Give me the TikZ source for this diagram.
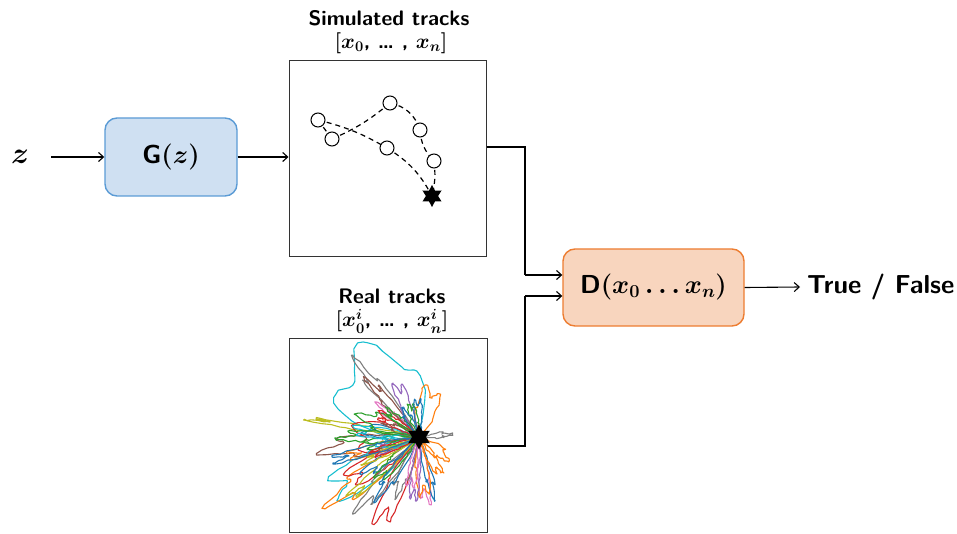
\documentclass[tikz,border=0pt]{standalone}
\usepackage{fix-cm}
\usepackage{amsmath,bm}
\usepackage{fontspec}
\usetikzlibrary{shapes.geometric,arrows.meta,calc}
\definecolor{gfill}{HTML}{CFE0F2}
\definecolor{gline}{HTML}{5B9BD5}
\definecolor{dfill}{HTML}{F8D5BE}
\definecolor{dline}{HTML}{ED7D31}
\definecolor{tblue}{HTML}{1F77B4}
\definecolor{torange}{HTML}{FF7F0E}
\definecolor{tgreen}{HTML}{2CA02C}
\definecolor{tred}{HTML}{D62728}
\definecolor{tpurple}{HTML}{9467BD}
\definecolor{tbrown}{HTML}{8C564B}
\definecolor{tpink}{HTML}{E377C2}
\definecolor{tgray}{HTML}{7F7F7F}
\definecolor{tolive}{HTML}{BCBD22}
\definecolor{tcyan}{HTML}{17BECF}
\tikzset{
  lbl/.style={font=\sffamily\bfseries\boldmath\fontsize{26}{30}\selectfont, inner sep=0pt},
  titlelbl/.style={font=\sffamily\bfseries\boldmath\fontsize{21}{24}\selectfont, inner sep=0pt},
  gbox/.style={draw=gline, fill=gfill, line width=1.4pt, rounded corners=12pt,
    minimum width=132pt, minimum height=78pt, lbl},
  dbox/.style={draw=dline, fill=dfill, line width=1.4pt, rounded corners=12pt,
    minimum width=181pt, minimum height=77pt, lbl},
  panel/.style={draw=black!80, line width=1pt, inner sep=0pt},
  arr/.style={line width=1.1pt, -{Straight Barb[length=5pt,width=9pt]}},
  link/.style={line width=1.1pt},
  pt/.style={circle, draw, line width=1pt, minimum size=14pt, inner sep=0pt, fill=white},
  hexstar/.style={star, star points=6, star point ratio=1.8, fill=black, inner sep=0pt},
  simtrack/.style={dash pattern=on 5pt off 4pt, line width=1.2pt},
  trk/.style={line width=1.1pt, line join=round, line cap=round},
}
\begin{document}
\begin{tikzpicture}[x=1pt,y=-1pt]
\useasboundingbox (0,0) rectangle (957,534);

% generator
\node[lbl, font=\boldmath\fontsize{30}{32}\selectfont] (z) at (20,157) {$z$};
\node[gbox] (G) at (171,157) {G$(z)$};

% panels
\node[panel, minimum width=197pt, minimum height=196pt] (S) at (387.5,159) {};
\node[panel, minimum width=198pt, minimum height=194pt] (R) at (388,435) {};
\node[titlelbl] (st1) at (389,18) {Simulated tracks};
\node[titlelbl] (st2) at (391,43) {$[x_{0}$, \ldots\ , $x_{n}]$};
\node[titlelbl] (rt1) at (392,296) {Real tracks};
\node[titlelbl] (rt2) at (392,321) {$[x^{i}_{0}$, \ldots\ , $x^{i}_{n}]$};

% discriminator
\node[dbox] (D) at (653.5,287.5) {D$(x_{0}\ldots x_{n})$};
\node[lbl, anchor=west] (tf) at (807,287) {True / False};

% simulated track
\coordinate (p1) at (318,120);
\coordinate (p2) at (332,139);
\coordinate (p3) at (390,103);
\coordinate (p4) at (420,130);
\coordinate (p5) at (387,148);
\coordinate (p6) at (434,161);
\coordinate (p7) at (432,196);
\draw[simtrack] (p1) -- (p2);
\draw[simtrack] (p1) to[bend left=8] (p5);
\draw[simtrack] (p5) to[bend left=15] (p7);
\draw[simtrack] (p2) to[bend right=8] (p3);
\draw[simtrack] (p3) to[bend left=30] (p4);
\draw[simtrack] (p4) to[bend right=20] (p6);
\draw[simtrack] (p6) to[bend left=10] (p7);
\node[pt] (c1) at (p1) {};
\node[pt] (c2) at (p2) {};
\node[pt] (c3) at (p3) {};
\node[pt] (c4) at (p4) {};
\node[pt] (c5) at (p5) {};
\node[pt] (c6) at (p6) {};
\node[hexstar, minimum size=22pt] (sstar) at (p7) {};

% real tracks: jittery loops leaving from and returning to the end point
\coordinate (rc) at (419,437);
\pgfmathsetseed{5}
\foreach \tcol/\tdir/\tE/\tw in {
  tcyan/130/100/55, tgray/130/93/8, tbrown/132/72/8, tpurple/113/55/14,
  tpink/142/50/10, torange/76/48/30, tolive/171/106/3, tbrown/188/92/14,
  tred/178/62/35, tcyan/212/97/22, torange/217/106/12, tred/245/90/14,
  tred/211/78/18, tgray/230/90/10, tgray/248/60/12, tolive/221/86/8,
  tpink/277/62/12, tblue/284/58/8, torange/-38/34/22, torange/275/56/16,
  tgray/5/30/10, tgreen/188/52/14, tblue/173/52/16, tblue/213/62/12,
  tcyan/174/62/12, tpurple/200/42/16, tgreen/105/32/16, tblue/92/36/14,
  tgreen/160/60/18, tred/150/45/14, torange/195/70/10, tgreen/225/55/14,
  tblue/235/70/10, tpink/260/48/14, tpurple/265/60/10, tcyan/190/40/20,
  tolive/205/58/8, tbrown/160/35/12, tgreen/140/40/12, tblue/120/30/16,
  torange/300/40/16, tred/200/48/12, tgreen/180/75/10, tblue/195/85/8}{
  \pgfmathsetmacro\tph{360*rnd}
  \pgfmathsetmacro\tfa{90/\tw}
  \pgfmathsetmacro\tfb{540/\tw}
  \draw[trk, color=\tcol, shift={(rc)}]
    plot[domain=-\tw:\tw, samples=42, variable=\q]
    ({\tE*pow(abs(cos(\tfa*\q)),0.6)*(1+0.14*sin(\tfb*\q+\tph))*cos(\tdir+\q)+0.9*rand},
     {-\tE*pow(abs(cos(\tfa*\q)),0.6)*(1+0.14*sin(\tfb*\q+\tph))*sin(\tdir+\q)+0.9*rand});
}
\node[hexstar, minimum size=25pt] (rstar) at (rc) {};

% connectors
\coordinate (m1) at (525,275);
\coordinate (m2) at (525,296);
\draw[arr, shorten <=22pt] (z.east) -- (G.west);
\draw[arr] (G.east) -- (G.east -| S.west);
\draw[link] ([yshift=12pt]S.east) -| (m1);
\draw[arr] (m1) -- (m1 -| D.west);
\draw[link] ([yshift=-11pt]R.east) -| (m2);
\draw[arr] (m2) -- (m2 -| D.west);
\draw[arr] (D.east) -- ([xshift=-7pt]tf.west);
\end{tikzpicture}
\end{document}
